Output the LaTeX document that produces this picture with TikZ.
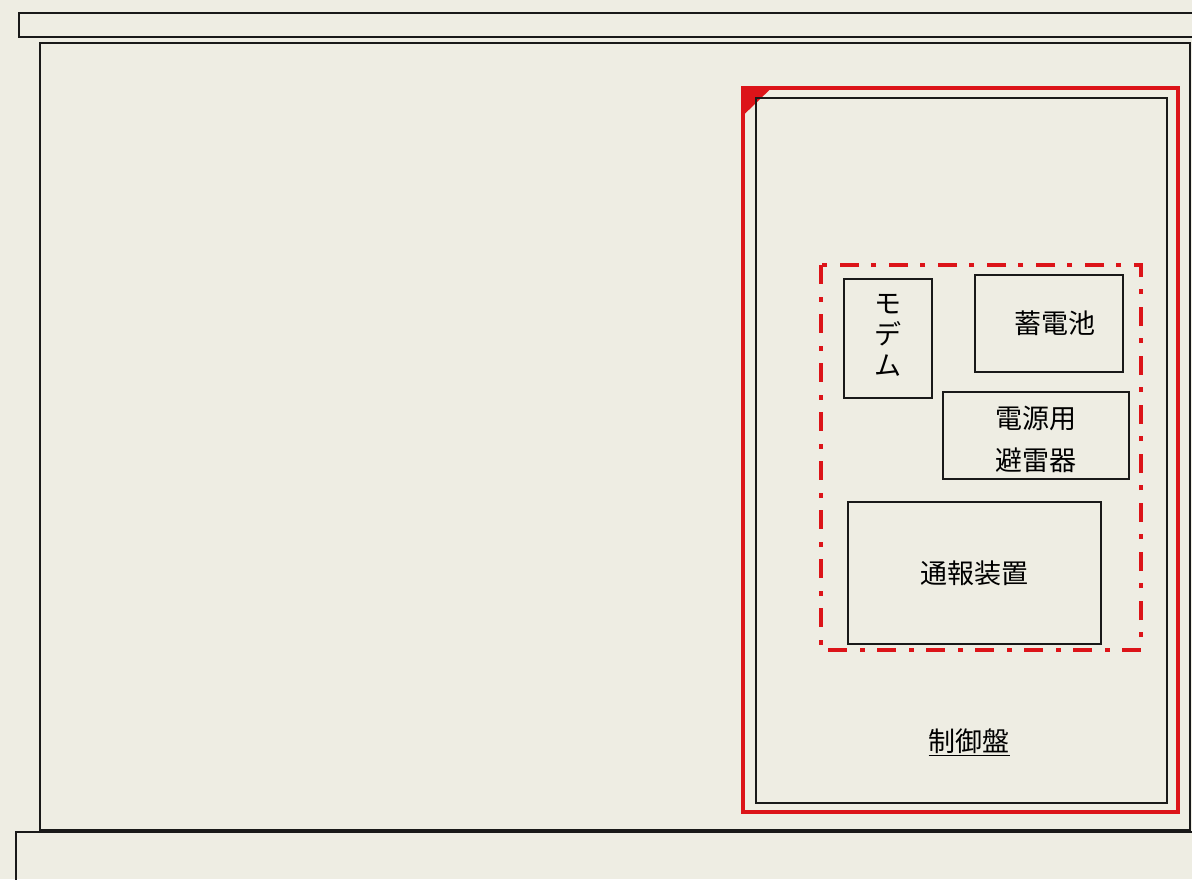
\documentclass[tikz,border=0pt]{standalone}
\usepackage{fontspec}
\newfontfamily\jp{Noto Sans CJK JP}
\definecolor{paper}{RGB}{238,237,227}
\definecolor{redline}{RGB}{220,20,25}
\begin{document}
\begin{tikzpicture}[x=1pt,y=-1pt,
  frame/.style={draw=black!90,line width=2pt},
  box/.style={draw=black!90,line width=1.6pt,inner sep=0pt,anchor=north west},
  lbl/.style={font=\jp\fontsize{27}{35}\selectfont,inner sep=0pt,align=center}]
\useasboundingbox (0,0) rectangle (1192,879);
\fill[paper] (0,0) rectangle (1192,879);
\clip (0,0) rectangle (1192,879);
% outer frames
\draw[frame] (19,13) rectangle (1220,37);
\draw[frame] (40,43) rectangle (1190,830);
\draw[frame] (16,832) rectangle (1220,900);
% control panel
\draw[draw=redline,line width=3.5pt] (743,88) rectangle (1178,812);
\fill[redline] (741.5,86.5) -- (773,86.5) -- (741.5,117) -- cycle;
\draw[frame,line width=1.6pt] (756,98) rectangle (1167,803);
% dash-dot region
\draw[draw=redline,line width=4.5pt,dash pattern=on 19pt off 13pt on 5pt off 12pt] (821,265) rectangle (1141,650);
% components
\node[box,minimum width=88,minimum height=119] (modem) at (843,278) {};
\node[lbl,font=\jp\fontsize{27}{31}\selectfont] at ([yshift=3pt]modem.center) {モ\\デ\\ム};
\node[box,minimum width=148,minimum height=97] (batt) at (974,274) {};
\node[lbl] at ([xshift=6pt]batt.center) {蓄電池};
\node[box,minimum width=186,minimum height=87] (arr) at (942,391) {};
\node[lbl,font=\jp\fontsize{27}{42}\selectfont] at ([yshift=-4pt]arr.center) {電源用\\避雷器};
\node[box,minimum width=253,minimum height=142] (comm) at (847,501) {};
\node[lbl] at (comm.center) {通報装置};
\node[lbl] (panel) at (969,742) {\underline{制御盤}};
\end{tikzpicture}
\end{document}
